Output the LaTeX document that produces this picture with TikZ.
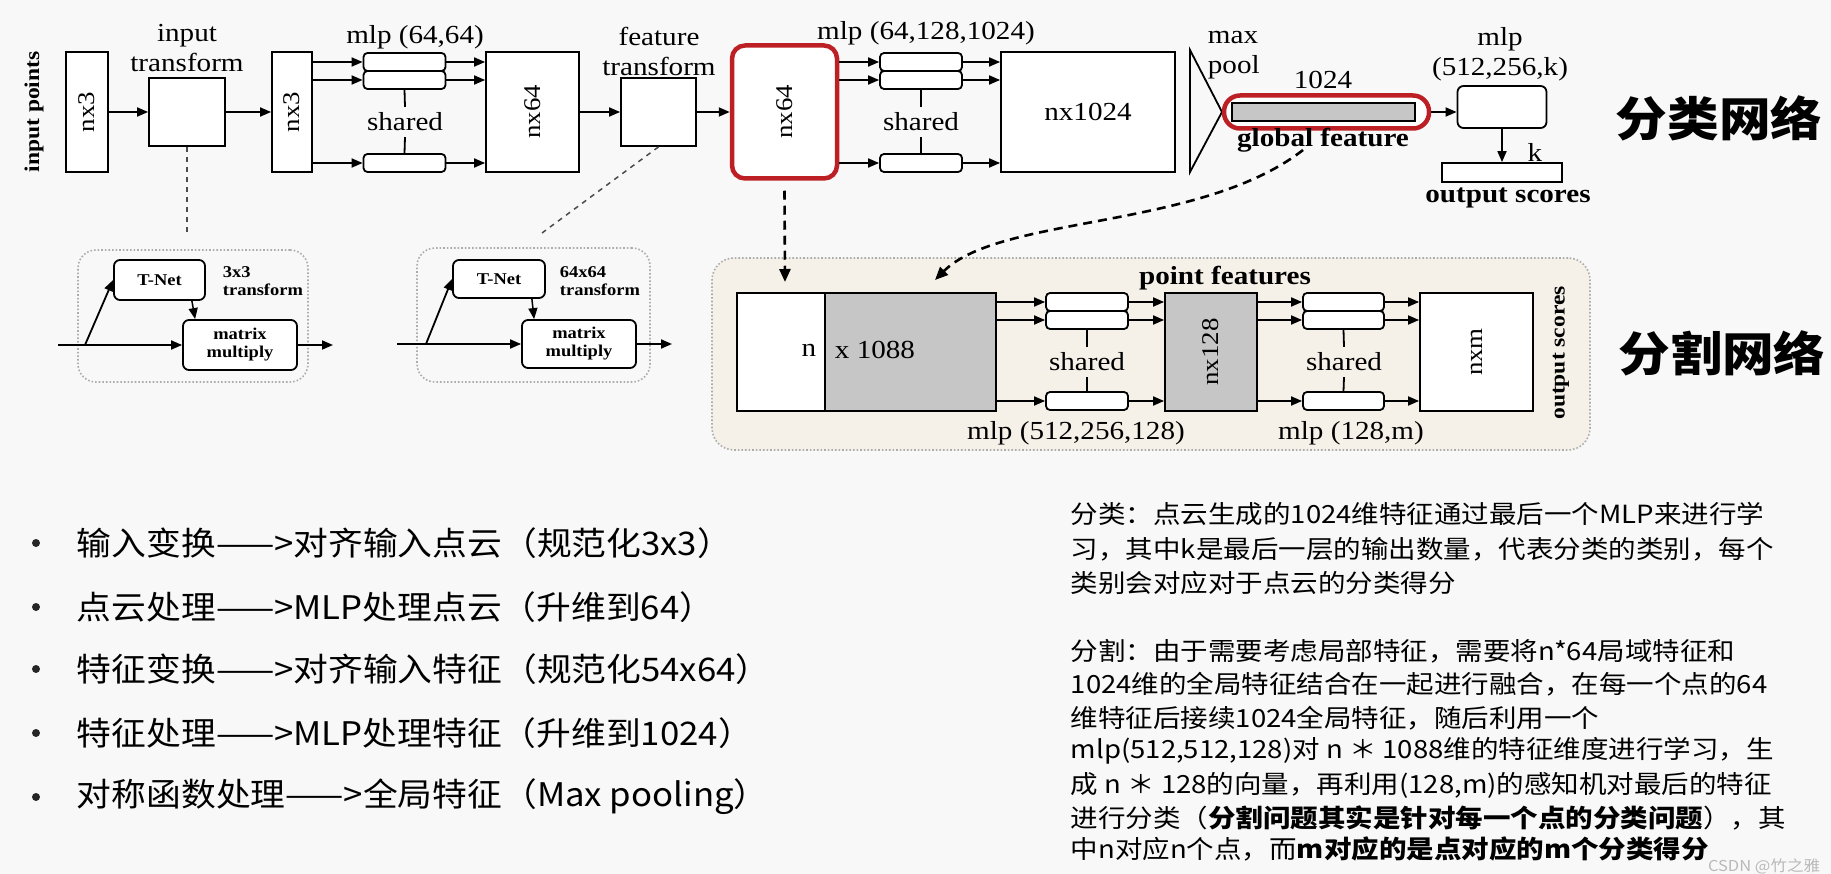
\documentclass[tikz,border=0pt]{standalone}
\usepackage{fontspec}
\setmainfont{Liberation Serif}[FakeStretch=1.12]
\newfontfamily\cjk{Noto Sans CJK SC}[FakeStretch=1.1]
\newfontfamily\cjkb{Noto Sans CJK SC}[FakeStretch=1.07]
\usetikzlibrary{arrows.meta, positioning, calc}

\definecolor{bgc}{RGB}{248,248,248}
\definecolor{redc}{RGB}{188,32,36}
\definecolor{beige}{RGB}{246,241,232}

\begin{document}
\begin{tikzpicture}[
    x=1pt, y=-1pt,
    >={Triangle[length=11pt,width=9pt]},
    line width=1.8pt,
    box/.style={
        rectangle, draw, fill=white, inner sep=0pt, line width=1.8pt
    },
    mlpbox/.style={
        box, rounded corners=4pt,
        minimum width=82pt, minimum height=18pt
    },
    redbox/.style={
        rectangle, draw=redc, fill=white, line width=4.5pt, inner sep=0pt
    },
    dotbox/.style={
        rectangle, draw=gray!65, dotted, line width=1.6pt, inner sep=0pt,
        rounded corners=18pt
    },
    lbl/.style={font=\fontsize{26}{30}\selectfont, inner sep=0pt, align=center},
    blbl/.style={font=\fontsize{26}{30}\selectfont\bfseries, inner sep=0pt, align=center},
    rot/.style={font=\fontsize{24}{28}\selectfont, rotate=90, inner sep=0pt},
    small/.style={font=\fontsize{16.5}{18}\selectfont\bfseries, inner sep=0pt, align=center},
    shr/.style={lbl, inner ysep=5pt},
    dashline/.style={dashed, dash pattern=on 5pt off 5pt, draw=gray!60!black, line width=1.5pt},
    dasharr/.style={dash pattern=on 9pt off 6pt, line width=2.6pt,
        -{Triangle[length=13pt,width=11pt]}},
    dot/.style={circle, fill=black!85, inner sep=0pt, minimum size=8pt},
    btxt/.style={anchor=west, font=\cjkb\fontsize{32.5}{36}\selectfont, inner sep=0pt},
    rtxt/.style={anchor=west, font=\cjk\fontsize{25}{30}\selectfont, inner sep=0pt},
    bigcjk/.style={font=\cjk\fontsize{47}{50}\selectfont\bfseries, inner sep=0pt}
]

\path[fill=bgc, use as bounding box] (0,0) rectangle (1831,874);

% classification network
\node[font=\fontsize{21}{25}\selectfont\bfseries, rotate=90, inner sep=0pt] (inpts) at (34,112) {input points};
\node[box, minimum width=42pt, minimum height=120pt, label={[rot]center:nx3}] (nxa) at (87,112) {};
\node[box, minimum width=76pt, minimum height=68pt] (itbox) at (187,112) {};
\node[lbl] (itl) at (187,48) {input\\transform};
\node[box, minimum width=40pt, minimum height=120pt, label={[rot]center:nx3}] (nxb) at (292,112) {};

\node[mlpbox] (m1a) at (404.5,62) {};
\node[mlpbox] (m1b) at (404.5,80) {};
\node[mlpbox] (m1c) at (404.5,163) {};
\node[lbl] (m1l) at (415,37) {mlp (64,64)};
\node[shr] (sh1) at (405,122) {shared};
\node[box, minimum width=93pt, minimum height=120pt, label={[rot]center:nx64}] (nxc) at (532.5,112) {};

\node[box, minimum width=75pt, minimum height=68pt] (ftbox) at (658.5,112) {};
\node[lbl] (ftl) at (659,51) {feature\\transform};
\node[redbox, rounded corners=13pt, minimum width=105pt, minimum height=133pt, label={[rot]center:nx64}] (nxd) at (784.5,112) {};

\node[mlpbox] (m2a) at (921,62) {};
\node[mlpbox] (m2b) at (921,80) {};
\node[mlpbox] (m2c) at (921,163) {};
\node[lbl] (m2l) at (926,33) {mlp (64,128,1024)};
\node[shr] (sh2) at (921,122) {shared};
\node[box, minimum width=174pt, minimum height=120pt] (nxe) at (1088,112) {};
\node[lbl] (nxel) at (1088,112) {nx1024};

\draw (1190,50) -- (1222,112) -- (1190,172) -- cycle;
\node[lbl, align=left, anchor=west] (mp) at (1207,55) {max\\pool};
\node[lbl] (dim) at (1323,80) {1024};
\node[redbox, rounded corners=16pt, minimum width=205pt, minimum height=33pt] (gf) at (1326.5,112) {};
\node[draw, fill=gray!45, line width=1.2pt, inner sep=0pt, minimum width=183pt, minimum height=18pt] (gbar) at (1323.5,112) {};
\node[blbl] (gftxt) at (1323,140) {global feature};

\node[box, rounded corners=6pt, minimum width=89pt, minimum height=42pt] (cmlp) at (1502,107) {};
\node[lbl] (cmlpl) at (1500,54) {mlp\\(512,256,k)};
\node[box, minimum width=120pt, minimum height=19pt] (outb) at (1502,172.5) {};
\node[lbl] (kl) at (1535,152) {k};
\node[blbl] (outl) at (1508,198) {output scores};
\node[bigcjk] (cls) at (1719,118) {分类网络};

\draw[->] (nxa) -- (itbox);
\draw[->] (itbox) -- (nxb);
\foreach \m in {m1a,m1b,m1c} {
    \draw[->] (nxb.east |- \m) -- (\m);
    \draw[->] (\m) -- (nxc.west |- \m);
}
\draw (m1b.south) -- (sh1.north);
\draw (sh1.south) -- (m1c.north);
\draw[->] (nxc) -- (ftbox);
\draw[->] (ftbox) -- (nxd);
\foreach \m in {m2a,m2b,m2c} {
    \draw[->] (nxd.east |- \m) -- (\m);
    \draw[->] (\m) -- (nxe.west |- \m);
}
\draw (m2b.south) -- (sh2.north);
\draw (sh2.south) -- (m2c.north);
\draw[->] (gf.east) -- (cmlp.west |- gf.east);
\draw[->] (cmlp) -- (outb);

% transform nets
\node[dotbox, minimum width=230pt, minimum height=132pt] (tb1) at (193,316) {};
\node[box, rounded corners=6pt, minimum width=91pt, minimum height=40pt, small] (tn1) at (159.5,280) {T-Net};
\node[small, align=left, anchor=west] (tf1) at (222,281) {3x3\\transform};
\node[box, rounded corners=6pt, minimum width=114pt, minimum height=50pt, small] (mm1) at (240,345) {matrix\\multiply};
\coordinate (in1) at (58,345);
\coordinate (br1) at (85,345);
\coordinate (out1) at (333,345);
\draw (in1) -- (br1);
\draw[->] (br1) -- (mm1);
\draw[->] (br1) -- (tn1.west);
\draw[->] (mm1) -- (out1);
\draw[->, line width=1.5pt] ([xshift=-14pt]tn1.south east) -- ([xshift=13pt]mm1.north west);

\node[dotbox, minimum width=233pt, minimum height=134pt] (tb2) at (533.5,315) {};
\node[box, rounded corners=6pt, minimum width=92pt, minimum height=38pt, small] (tn2) at (499,279) {T-Net};
\node[small, align=left, anchor=west] (tf2) at (559,281) {64x64\\transform};
\node[box, rounded corners=6pt, minimum width=114pt, minimum height=48pt, small] (mm2) at (579,344) {matrix\\multiply};
\coordinate (in2) at (397,344);
\coordinate (br2) at (426,344);
\coordinate (out2) at (672,344);
\draw (in2) -- (br2);
\draw[->] (br2) -- (mm2);
\draw[->] (br2) -- (tn2.west);
\draw[->] (mm2) -- (out2);
\draw[->, line width=1.5pt] ([xshift=-14pt]tn2.south east) -- ([xshift=13pt]mm2.north west);

\coordinate (tx1) at (187,233);
\coordinate (tx2) at (542,233);
\draw[dashline] (itbox.south) -- (tx1);
\draw[dashline] (ftbox.south) -- (tx2);

% segmentation network
\node[dotbox, fill=beige, rounded corners=22pt, minimum width=878pt, minimum height=192pt] (seg) at (1151,354) {};
\node[box, minimum width=88pt, minimum height=118pt] (nw) at (781,352) {};
\node[box, fill=gray!45, minimum width=171pt, minimum height=118pt] (ng) at (910.5,352) {};
\node[lbl] (nl) at (809,350) {n};
\node[lbl] (xl) at (875,350) {x 1088};
\node[blbl] (pf) at (1225,278) {point features};

\node[mlpbox] (s1a) at (1087,302) {};
\node[mlpbox] (s1b) at (1087,320) {};
\node[mlpbox] (s1c) at (1087,401) {};
\node[shr] (sh3) at (1087,362) {shared};
\node[box, fill=gray!45, minimum width=92pt, minimum height=118pt, label={[rot]center:nx128}] (nxf) at (1211,352) {};
\node[mlpbox, minimum width=81pt] (s2a) at (1343.5,302) {};
\node[mlpbox, minimum width=81pt] (s2b) at (1343.5,320) {};
\node[mlpbox, minimum width=81pt] (s2c) at (1343.5,401) {};
\node[shr] (sh4) at (1344,362) {shared};
\node[box, minimum width=113pt, minimum height=118pt, label={[rot]center:nxm}] (nxg) at (1476.5,352) {};
\node[font=\fontsize{21}{25}\selectfont\bfseries, rotate=90, inner sep=0pt] (sgout) at (1561,353) {output scores};
\node[lbl] (s1l) at (1076,433) {mlp (512,256,128)};
\node[lbl] (s2l) at (1351,433) {mlp (128,m)};
\node[bigcjk] (segt) at (1722,353) {分割网络};

\foreach \m in {s1a,s1b,s1c} {
    \draw[->] (ng.east |- \m) -- (\m);
    \draw[->] (\m) -- (nxf.west |- \m);
}
\foreach \m in {s2a,s2b,s2c} {
    \draw[->] (nxf.east |- \m) -- (\m);
    \draw[->] (\m) -- (nxg.west |- \m);
}
\draw (s1b.south) -- (sh3.north);
\draw (sh3.south) -- (s1c.north);
\draw (s2b.south) -- (sh4.north);
\draw (sh4.south) -- (s2c.north);

\coordinate (segin) at (785,282);
\coordinate (gfout) at (1303,150);
\coordinate (segtop) at (935,280);
\draw[dasharr] ([yshift=-10pt]nxd.south) -- (segin);
\draw[dasharr] (gfout) .. controls (1200,230) and (1000,215) .. (segtop);

% notes
\node[dot] (d1) at (36,543) {};
\node[dot] (d2) at (36,607) {};
\node[dot] (d3) at (36,669) {};
\node[dot] (d4) at (36,733) {};
\node[dot] (d5) at (36,797) {};
\node[btxt] (t1) at (76,543) {输入变换——>对齐输入点云（规范化3x3）};
\node[btxt] (t2) at (76,607) {点云处理——>MLP处理点云（升维到64）};
\node[btxt] (t3) at (76,669) {特征变换——>对齐输入特征（规范化54x64）};
\node[btxt] (t4) at (76,733) {特征处理——>MLP处理特征（升维到1024）};
\node[btxt] (t5) at (76,797) {对称函数处理——>全局特征（Max pooling）};

\node[rtxt] (r1) at (1070,514) {分类：点云生成的1024维特征通过最后一个MLP来进行学};
\node[rtxt] (r2) at (1070,549) {习，其中k是最后一层的输出数量，代表分类的类别，每个};
\node[rtxt] (r3) at (1070,583) {类别会对应对于点云的分类得分};
\node[rtxt] (r4) at (1070,651) {分割：由于需要考虑局部特征，需要将n*64局域特征和};
\node[rtxt] (r5) at (1070,684) {1024维的全局特征结合在一起进行融合，在每一个点的64};
\node[rtxt] (r6) at (1070,718) {维特征后接续1024全局特征，随后利用一个};
\node[rtxt] (r7) at (1070,751) {mlp(512,512,128)对 n ＊ 1088维的特征维度进行学习，生};
\node[rtxt] (r8) at (1070,785) {成 n ＊ 128的向量，再利用(128,m)的感知机对最后的特征};
\node[rtxt] (r9) at (1070,818) {进行分类（\textbf{分割问题其实是针对每一个点的分类问题}），其};
\node[rtxt] (r10) at (1070,849) {中n对应n个点，而\textbf{m对应的是点对应的m个分类得分}};
\node[font=\cjk\fontsize{15}{18}\selectfont, text=gray!55, inner sep=0pt] (wm) at (1764,866) {CSDN @竹之雅};

\end{tikzpicture}
\end{document}
